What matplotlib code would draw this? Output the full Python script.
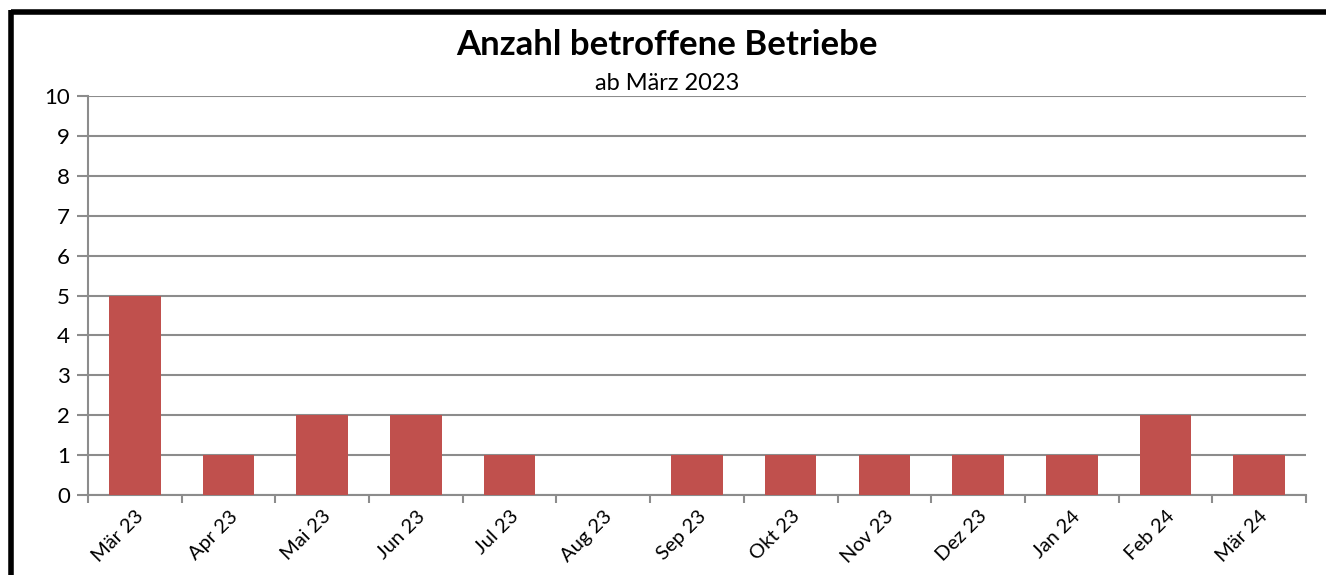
import matplotlib
matplotlib.use("Agg")
import matplotlib.pyplot as plt
from matplotlib.lines import Line2D

months = ["Mär 23", "Apr 23", "Mai 23", "Jun 23", "Jul 23", "Aug 23", "Sep 23",
          "Okt 23", "Nov 23", "Dez 23", "Jan 24", "Feb 24", "Mär 24"]
counts = [5, 1, 2, 2, 1, 0, 1, 1, 1, 1, 1, 2, 1]
yticks = list(range(0, 11))

plt.rcParams['font.family'] = ['Lato', 'DejaVu Sans']

fig = plt.figure(figsize=(13.26, 5.75), dpi=100)
W, H = 1326, 575
ax = fig.add_axes([88 / W, 1 - 495 / H, (1306 - 88) / W, (495 - 96) / H])

x = list(range(len(months)))
ax.bar(x, counts, width=0.55, color="#C0504D", zorder=3)
ax.set_xlim(-0.5, len(months) - 0.5)
ax.set_ylim(0, 10)
ax.set_yticks(yticks)
ax.set_yticklabels([str(v) for v in yticks], fontsize=16)
ax.yaxis.grid(True, color="#8C8C8C", linewidth=1.5, zorder=0)
ax.set_axisbelow(True)

ax.set_xticks(x)
ax.set_xticklabels(months, rotation=45, ha="right", va="top", fontsize=14.5,
                   rotation_mode="anchor")
ax.tick_params(axis="x", length=0, pad=9)
ax.set_xticks([i - 0.5 for i in range(len(months) + 1)], minor=True)
ax.tick_params(axis="x", which="minor", length=6, width=1.5, color="#8C8C8C")
ax.tick_params(axis="y", length=8, width=1.5, color="#8C8C8C", pad=5)

for s in ["top", "right"]:
    ax.spines[s].set_visible(False)
for s in ["left", "bottom"]:
    ax.spines[s].set_color("#8C8C8C")
    ax.spines[s].set_linewidth(1.5)

fig.text(667 / W, 1 - 45 / H, "Anzahl betroffene Betriebe", ha="center", va="center",
         fontsize=25, fontweight="bold")
fig.text(667 / W, 1 - 83 / H, "ab März 2023", ha="center", va="center", fontsize=17)

# outer frame (top and left)
fig.add_artist(Line2D([11 / W, 1], [1 - 11.5 / H, 1 - 11.5 / H], color="black",
                      linewidth=4, transform=fig.transFigure, solid_capstyle="butt"))
fig.add_artist(Line2D([11 / W, 11 / W], [0, 1 - 9.5 / H], color="black",
                      linewidth=4, transform=fig.transFigure, solid_capstyle="butt"))

fig.savefig("out.png", dpi=100, facecolor="white")
